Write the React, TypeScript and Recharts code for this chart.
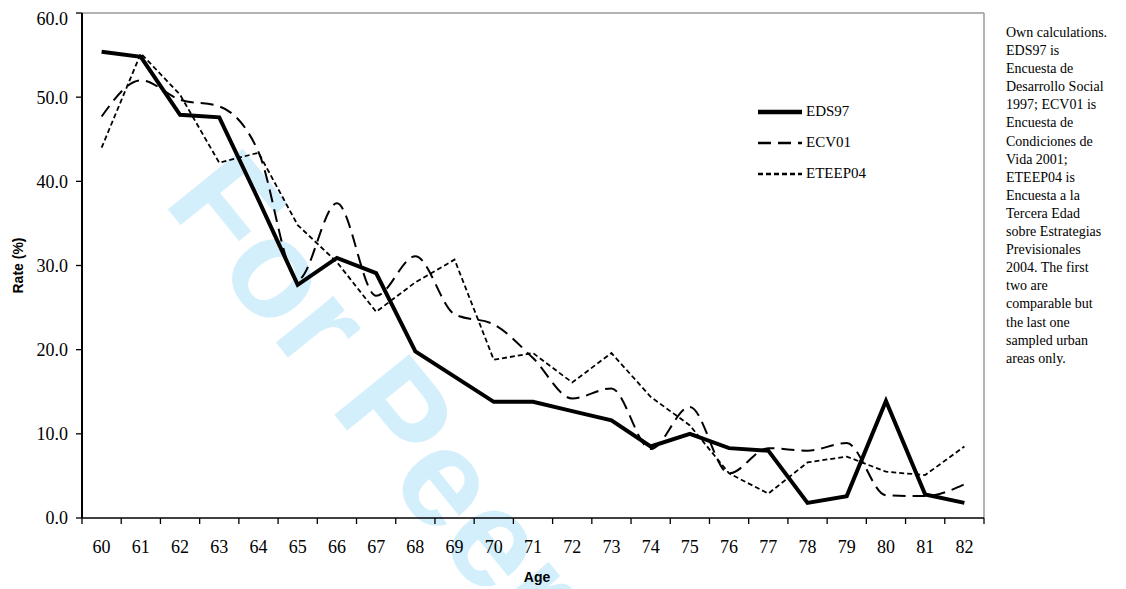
import { LineChart, Line, XAxis, YAxis, ReferenceLine, Legend, Label } from "recharts";

const ages = [60, 61, 62, 63, 64, 65, 66, 67, 68, 69, 70, 71, 72, 73, 74, 75, 76, 77, 78, 79, 80, 81, 82];

const eds97 = [55.4, 54.8, 47.9, 47.6, 37.8, 27.7, 30.9, 29.1, 19.8, 16.8, 13.8, 13.8, 12.7, 11.6, 8.5, 10.0, 8.3, 8.0, 1.8, 2.6, 13.9, 2.8, 1.8];
const ecv01 = [47.7, 52.0, 49.7, 48.9, 43.5, 28.3, 37.4, 26.4, 31.1, 24.2, 23.0, 19.0, 14.2, 15.4, 8.2, 13.2, 5.3, 8.3, 8.0, 8.9, 2.7, 2.6, 4.0];
const eteep04 = [44.0, 55.2, 50.3, 42.2, 43.4, 34.8, 30.4, 24.5, 28.0, 30.7, 18.8, 19.6, 16.1, 19.6, 14.4, 11.0, 5.3, 2.9, 6.6, 7.3, 5.5, 5.1, 8.5];

const yTicks = [0, 10, 20, 30, 40, 50, 60];

const noteLines = [
  "Own calculations.",
  "EDS97 is",
  "Encuesta de",
  "Desarrollo Social",
  "1997; ECV01 is",
  "Encuesta de",
  "Condiciones de",
  "Vida 2001;",
  "ETEEP04 is",
  "Encuesta a la",
  "Tercera Edad",
  "sobre Estrategias",
  "Previsionales",
  "2004. The first",
  "two are",
  "comparable but",
  "the last one",
  "sampled urban",
  "areas only.",
];

const series = [
  { key: "EDS97", width: 4, dash: undefined, type: "linear" },
  { key: "ECV01", width: 2, dash: "13 7", type: "monotone" },
  { key: "ETEEP04", width: 1.8, dash: "5 3", type: "linear" },
] as const;

const data = ages.map((age, i) => ({
  age,
  EDS97: eds97[i],
  ECV01: ecv01[i],
  ETEEP04: eteep04[i],
}));

const SERIF = "'Liberation Serif', 'Times New Roman', serif";
const SANS = "'Liberation Sans', Arial, sans-serif";

const W = 1110;
const H = 581;
const Y_W = 74;
const RIGHT = 134;
const STEP = (W - Y_W - RIGHT) / ages.length;

function AgeTick(props: any) {
  const { x, y, payload } = props;
  const half = STEP / 2;
  const last = payload.value === ages[ages.length - 1];
  return (
    <g>
      <line x1={x - half} x2={x - half} y1={y} y2={y + 6} stroke="#000" strokeWidth={1.3} />
      {last && <line x1={x + half} x2={x + half} y1={y} y2={y + 6} stroke="#000" strokeWidth={1.3} />}
      <text x={x} y={y + 35} textAnchor="middle" fontFamily={SERIF} fontSize={18} fill="#000">
        {payload.value}
      </text>
    </g>
  );
}

function renderLegend() {
  return (
    <div style={{ fontFamily: SERIF, fontSize: 15, color: "#000" }}>
      {series.map((s) => (
        <div key={s.key} style={{ height: 31, display: "flex", alignItems: "center" }}>
          <svg width={47} height={10} style={{ marginRight: 2 }}>
            <line x1={1} x2={45} y1={5} y2={5} stroke="#000" strokeWidth={s.width + 0.5} strokeDasharray={s.dash} />
          </svg>
          <span>{s.key}</span>
        </div>
      ))}
    </div>
  );
}

export default function App() {
  return (
    <div style={{ position: "relative", width: W, height: 581, overflow: "hidden" }}>
      <svg width={W} height={581} style={{ position: "absolute", left: 0, top: 0 }}>
        <text
          x={154}
          y={194}
          transform="rotate(51 154 194)"
          fontFamily={SANS}
          fontWeight="bold"
          fontSize={140}
          fill="#d4effc"
        >
          For Peer Review
        </text>
      </svg>
      <div style={{ position: "absolute", left: 0, top: 0 }}>
        <LineChart width={W} height={H} data={data} margin={{ top: 5, right: RIGHT, left: 0, bottom: 8 }}>
          <XAxis
            dataKey="age"
            type="number"
            domain={[59.5, 82.5]}
            ticks={ages}
            interval={0}
            height={63}
            tickSize={0}
            tickMargin={0}
            tickLine={false}
            axisLine={{ stroke: "#000", strokeWidth: 1.5 }}
            tick={<AgeTick />}
          >
            <Label
              content={({ viewBox }: any) => (
                <text
                  x={viewBox.x + viewBox.width / 2 + 4}
                  y={viewBox.y + 64}
                  textAnchor="middle"
                  fontFamily={SANS}
                  fontWeight="bold"
                  fontSize={14}
                  fill="#000"
                >
                  Age
                </text>
              )}
            />
          </XAxis>
          <YAxis
            domain={[0, 60]}
            ticks={yTicks}
            width={Y_W}
            tickSize={6}
            tickMargin={8}
            tickFormatter={(v: number) => v.toFixed(1)}
            axisLine={{ stroke: "#000", strokeWidth: 2 }}
            tickLine={{ stroke: "#000", strokeWidth: 1.3 }}
            tick={{ fontFamily: SERIF, fontSize: 18, fill: "#000" }}
          >
            <Label
              content={({ viewBox }: any) => {
                const cx = 10;
                const cy = viewBox.y + viewBox.height / 2;
                return (
                  <text
                    x={cx}
                    y={cy}
                    transform={`rotate(-90 ${cx} ${cy})`}
                    textAnchor="middle"
                    dominantBaseline="central"
                    fontFamily={SANS}
                    fontWeight="bold"
                    fontSize={14}
                    fill="#000"
                  >
                    Rate (%)
                  </text>
                );
              }}
            />
          </YAxis>
          <ReferenceLine y={60} stroke="#9a9a9a" strokeWidth={1.5} />
          <ReferenceLine x={82.5} stroke="#9a9a9a" strokeWidth={1.5} />
          <Legend
            layout="vertical"
            align="center"
            verticalAlign="middle"
            wrapperStyle={{ left: 749, top: 88, width: 120 }}
            content={renderLegend}
          />
          {series.map((s) => (
            <Line
              key={s.key}
              dataKey={s.key}
              name={s.key}
              type={s.type}
              stroke="#000"
              strokeWidth={s.width}
              strokeDasharray={s.dash}
              strokeLinejoin="miter"
              dot={false}
              activeDot={false}
              isAnimationActive={false}
            />
          ))}
        </LineChart>
      </div>
      <div
        style={{
          position: "absolute",
          left: 998,
          top: 16,
          fontFamily: SERIF,
          fontSize: 14,
          lineHeight: "18.1px",
          color: "#000",
          whiteSpace: "nowrap",
        }}
      >
        {noteLines.map((l, i) => (
          <div key={i}>{l}</div>
        ))}
      </div>
    </div>
  );
}
